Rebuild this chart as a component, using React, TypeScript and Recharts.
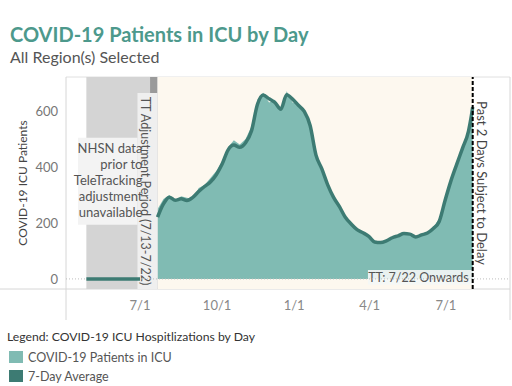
import React from 'react';
import { ComposedChart, Area, Line, XAxis, YAxis, ReferenceArea, ReferenceLine } from 'recharts';

// ---- data ----
const zeroDates = ['2020-04-28', '2020-05-12', '2020-05-26', '2020-06-09', '2020-06-23', '2020-07-01'];
const zeroAvg = [0, 0, 0, 0, 0, 0];
const gapDate = '2020-07-12';

const dates = [
  '2020-07-22', '2020-07-29', '2020-08-05', '2020-08-12', '2020-08-19', '2020-08-26',
  '2020-09-02', '2020-09-09', '2020-09-16', '2020-09-23', '2020-09-30', '2020-10-07',
  '2020-10-14', '2020-10-21', '2020-10-28', '2020-11-04', '2020-11-11', '2020-11-18',
  '2020-11-25', '2020-12-02', '2020-12-09', '2020-12-16', '2020-12-23', '2020-12-30',
  '2021-01-06', '2021-01-13', '2021-01-20', '2021-01-27', '2021-02-03', '2021-02-10',
  '2021-02-17', '2021-02-24', '2021-03-03', '2021-03-10', '2021-03-17', '2021-03-24',
  '2021-03-31', '2021-04-07', '2021-04-14', '2021-04-21', '2021-04-28', '2021-05-05',
  '2021-05-12', '2021-05-19', '2021-05-26', '2021-06-02', '2021-06-09', '2021-06-16',
  '2021-06-23', '2021-06-30', '2021-07-07', '2021-07-14', '2021-07-21', '2021-07-28',
  '2021-07-31', '2021-08-02',
];
const icuPatients = [
  250, 285, 300, 276, 295, 290,
  285, 325, 335, 360, 385, 420,
  470, 495, 480, 500, 545, 640,
  665, 630, 640, 600, 670, 630,
  625, 590, 560, 450, 385, 340,
  285, 262, 225, 190, 178, 160,
  150, 128, 135, 132, 150, 150,
  165, 158, 152, 160, 168, 185,
  215, 290, 355, 415, 475, 535,
  585, 620,
];
const sevenDayAvg = [
  221, 268, 292, 281, 286, 280,
  291, 312, 330, 346, 372, 410,
  460, 478, 470, 486, 528, 622,
  657, 643, 630, 606, 658, 642,
  620, 598, 548, 442, 393, 336,
  291, 258, 220, 196, 176, 165,
  152, 132, 130, 136, 147, 154,
  162, 160, 150, 157, 164, 180,
  205, 280, 350, 410, 468, 528,
  575, 614,
];

const tickDates = ['2020-07-01', '2020-10-01', '2021-01-01', '2021-04-01', '2021-07-01'];
const tickLabels = ['7/1', '10/1', '1/1', '4/1', '7/1'];
const yTicks = [0, 200, 400, 600];

// ---- helpers ----
const ORIGIN = Date.parse('2020-07-01');
const day = (s: string) => (Date.parse(s) - ORIGIN) / 86400000;

const rows: any[] = [];
zeroDates.forEach((d, i) => rows.push({ t: day(d), area: null, avg: zeroAvg[i] }));
rows.push({ t: day(gapDate), area: null, avg: null });
dates.forEach((d, i) => rows.push({ t: day(d), area: icuPatients[i], avg: sevenDayAvg[i] }));

const tickValues = tickDates.map(day);
const tickMap: Record<string, string> = {};
tickValues.forEach((v, i) => (tickMap[String(v)] = tickLabels[i]));

const FONT = "Lato, 'Open Sans', sans-serif";
const AREA_COLOR = '#80bbb3';
const LINE_COLOR = '#3d7b73';
const Y_MIN = -36;
const Y_MAX = 721;

const TTLabel = (p: any) => {
  const vb = p.viewBox;
  const cx = vb.x + 8;
  const cy = vb.y + vb.height / 2;
  return (
    <text x={cx} y={cy} transform={`rotate(90 ${cx} ${cy})`} textAnchor="middle" dominantBaseline="central"
      fontSize={12.5} fill="#555" fontFamily={FONT}>
      TT Adjustment Period (7/13-7/22)
    </text>
  );
};

const NHSN_LINES = ['NHSN data', 'prior to', 'TeleTracking', 'adjustment', 'unavailable'];
const NHSNLabel = (p: any) => {
  const vb = p.viewBox;
  const x = vb.x + vb.width + 5;
  return (
    <text textAnchor="end" fontSize={13} fill="#555" fontFamily={FONT}>
      {NHSN_LINES.map((l, i) => (
        <tspan key={i} x={x} y={vb.y + 15 + i * 16}>{l}</tspan>
      ))}
    </text>
  );
};

const OnwardsLabel = (p: any) => {
  const vb = p.viewBox;
  return (
    <text x={vb.x + vb.width - 4} y={vb.y + vb.height - 3} textAnchor="end" fontSize={12.5} fill="#555" fontFamily={FONT}>
      TT: 7/22 Onwards
    </text>
  );
};

const DelayLabel = (p: any) => {
  const vb = p.viewBox;
  const cx = vb.x + 9;
  const cy = vb.y + vb.height / 2;
  return (
    <text x={cx} y={cy} transform={`rotate(90 ${cx} ${cy})`} textAnchor="middle" dominantBaseline="central"
      fontSize={13} fill="#444" fontFamily={FONT}>
      Past 2 Days Subject to Delay
    </text>
  );
};

export default function App() {
  return (
    <div style={{ position: 'absolute', left: 0, top: 0, width: 512, height: 386, background: '#fff', fontFamily: FONT }}>
      <svg width={512} height={386} style={{ position: 'absolute', left: 0, top: 0 }}>
        <text x={10} y={42} fontSize={20} fontWeight={700} fill="#4d998c" fontFamily={FONT}>
          COVID-19 Patients in ICU by Day
        </text>
        <text x={10} y={63} fontSize={16} fill="#555" fontFamily={FONT}>All Region(s) Selected</text>
        <text x={22} y={183} transform="rotate(-90 22 183)" textAnchor="middle" dominantBaseline="central"
          fontSize={12} fill="#444" fontFamily={FONT}>COVID-19 ICU Patients</text>
        <line x1={66} y1={77} x2={510} y2={77} stroke="#e0e0e0" />
        <line x1={0} y1={289} x2={510} y2={289} stroke="#d6d6d6" />
        <line x1={66} y1={77} x2={66} y2={320} stroke="#d6d6d6" />
        <line x1={510} y1={77} x2={510} y2={320} stroke="#d6d6d6" />
        <text x={7} y={341} fontSize={12.2} fill="#333" fontFamily={FONT}>Legend: COVID-19 ICU Hospitlizations by Day</text>
        <rect x={9} y={351} width={14} height={12} fill={AREA_COLOR} />
        <text x={28} y={362} fontSize={12.5} fill="#555" fontFamily={FONT}>COVID-19 Patients in ICU</text>
        <rect x={9} y={370} width={14} height={12} fill={LINE_COLOR} />
        <text x={28} y={381} fontSize={12.5} fill="#555" fontFamily={FONT}>7-Day Average</text>
      </svg>
      <div style={{ position: 'absolute', left: 0, top: 0 }}>
        <ComposedChart width={512} height={386} data={rows} margin={{ top: 77, right: 2, left: 10, bottom: 67 }}>
          <XAxis type="number" dataKey="t" domain={[-88.3, 441.5]} ticks={tickValues} allowDataOverflow
            tickFormatter={(v: number) => tickMap[String(v)] ?? ''} axisLine={false} tickLine={false}
            tickSize={0} tickMargin={12} height={30} interval={0}
            tick={{ fontSize: 13, fill: '#888', fontFamily: FONT }} />
          <YAxis type="number" domain={[Y_MIN, Y_MAX]} ticks={yTicks} allowDataOverflow axisLine={false} tickLine={false}
            tickSize={0} tickMargin={8} width={56} tick={{ fontSize: 13, fill: '#777', fontFamily: FONT }} />
          <ReferenceArea x1={day('2020-04-28')} x2={day('2020-07-13')} y1={Y_MIN} y2={Y_MAX} fill="#d4d4d4" fillOpacity={1} stroke="none" ifOverflow="hidden" />
          <ReferenceArea x1={day('2020-07-13')} x2={day('2020-07-22')} y1={Y_MIN} y2={Y_MAX} fill="#9a9a9a" fillOpacity={1} stroke="none" ifOverflow="hidden" />
          <ReferenceArea x1={day('2020-07-22')} x2={day('2021-08-02')} y1={Y_MIN} y2={Y_MAX} fill="#fdf8ef" fillOpacity={1} stroke="none" ifOverflow="hidden" />
          <ReferenceLine y={0} stroke="#bdbdbd" strokeDasharray="1 2" />
          <Area type="linear" dataKey="area" fill={AREA_COLOR} fillOpacity={1} stroke="none" baseValue={0}
            isAnimationActive={false} dot={false} activeDot={false} />
          <Line type="monotone" dataKey="avg" stroke={LINE_COLOR} strokeWidth={3.5} dot={false} activeDot={false}
            isAnimationActive={false} />
          <ReferenceArea x1={day('2020-06-28')} x2={day('2020-07-22')} y1={Y_MIN} y2={664} fill="#efefef" fillOpacity={1}
            stroke="none" ifOverflow="hidden" label={(p: any) => <TTLabel {...p} />} />
          <ReferenceArea x1={day('2020-04-18')} x2={day('2020-06-28')} y1={193} y2={504} fill="#f3f3f3" fillOpacity={1}
            stroke="none" ifOverflow="hidden" label={(p: any) => <NHSNLabel {...p} />} />
          <ReferenceArea x1={day('2021-03-30')} x2={day('2021-08-02')} y1={-21} y2={32} fill="#f4f7f6" fillOpacity={0.9}
            stroke="none" ifOverflow="hidden" label={(p: any) => <OnwardsLabel {...p} />} />
          <ReferenceLine x={day('2021-08-02')} stroke="#000" strokeWidth={2} strokeDasharray="4 2"
            label={(p: any) => <DelayLabel {...p} />} />
        </ComposedChart>
      </div>
    </div>
  );
}
